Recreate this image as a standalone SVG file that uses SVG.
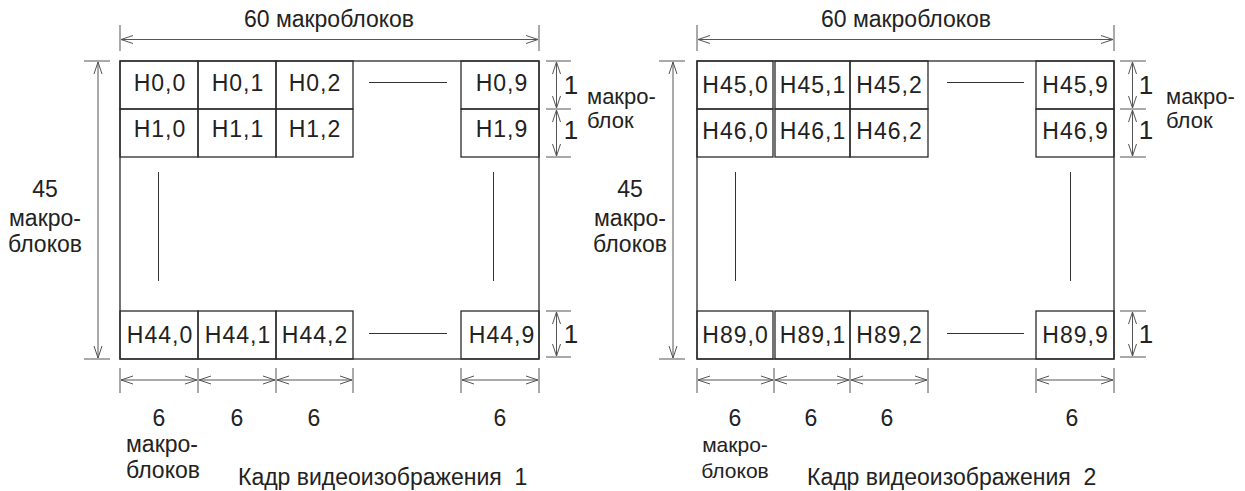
<svg xmlns="http://www.w3.org/2000/svg" width="1245" height="491" viewBox="0 0 1245 491">
<style>
text{font-family:"Liberation Sans",Arial,sans-serif;fill:#222}
.cell{font-size:23px;letter-spacing:1px;text-anchor:middle}
.lbl{font-size:23px}
.mid{text-anchor:middle}
.one{font-size:26px}
.frame{fill:none;stroke:#2a2a2a;stroke-width:1.3}
.dim{fill:none;stroke:#555;stroke-width:1}
.dash{fill:none;stroke:#333;stroke-width:1}
.arr{fill:none;stroke:#555;stroke-width:1;marker-start:url(#ah);marker-end:url(#ah)}
</style>
<defs>
<marker id="ah" viewBox="0 0 12 10" refX="12" refY="5" markerWidth="12" markerHeight="10" markerUnits="userSpaceOnUse" orient="auto-start-reverse">
<path d="M0,1 L12,5 L0,9" fill="none" stroke="#555" stroke-width="1"/>
</marker>
</defs>
<rect width="1245" height="491" fill="#fff"/>

<!-- ===== Frame 1 ===== -->
<g id="frame1">
<rect class="frame" x="120" y="61" width="419" height="298"/>
</g>
<g id="f1-r0">
<rect class="frame" x="120" y="61" width="78" height="48"/><text class="cell" x="160" y="91">H0,0</text>
<rect class="frame" x="198" y="61" width="78" height="48"/><text class="cell" x="238" y="91">H0,1</text>
<rect class="frame" x="276" y="61" width="77" height="48"/><text class="cell" x="315" y="91">H0,2</text>
<rect class="frame" x="461" y="61" width="78" height="48"/><text class="cell" x="502" y="91">H0,9</text>
</g>
<g id="f1-r1">
<rect class="frame" x="120" y="109" width="78" height="48"/><text class="cell" x="160" y="137">H1,0</text>
<rect class="frame" x="198" y="109" width="78" height="48"/><text class="cell" x="238" y="137">H1,1</text>
<rect class="frame" x="276" y="109" width="77" height="48"/><text class="cell" x="315" y="137">H1,2</text>
<rect class="frame" x="461" y="109" width="78" height="48"/><text class="cell" x="502" y="137">H1,9</text>
</g>
<g id="f1-r44">
<rect class="frame" x="120" y="311" width="78" height="48"/><text class="cell" x="160" y="343">H44,0</text>
<rect class="frame" x="198" y="311" width="78" height="48"/><text class="cell" x="238" y="343">H44,1</text>
<rect class="frame" x="276" y="311" width="77" height="48"/><text class="cell" x="315" y="343">H44,2</text>
<rect class="frame" x="461" y="311" width="78" height="48"/><text class="cell" x="502" y="343">H44,9</text>
</g>

<!-- ===== Frame 2 ===== -->
<g id="frame2">
<rect class="frame" x="697" y="61" width="417" height="298"/>
</g>
<g id="f2-r45">
<rect class="frame" x="697" y="61" width="76" height="48"/><text class="cell" x="735.5" y="93">H45,0</text>
<rect class="frame" x="775" y="61" width="75" height="48"/><text class="cell" x="813" y="93">H45,1</text>
<rect class="frame" x="850" y="61" width="78" height="48"/><text class="cell" x="889.5" y="93">H45,2</text>
<rect class="frame" x="1036" y="61" width="78" height="48"/><text class="cell" x="1075.5" y="93">H45,9</text>
</g>
<g id="f2-r46">
<rect class="frame" x="697" y="109" width="76" height="48"/><text class="cell" x="735.5" y="139">H46,0</text>
<rect class="frame" x="775" y="109" width="75" height="48"/><text class="cell" x="813" y="139">H46,1</text>
<rect class="frame" x="850" y="109" width="78" height="48"/><text class="cell" x="889.5" y="139">H46,2</text>
<rect class="frame" x="1036" y="109" width="78" height="48"/><text class="cell" x="1075.5" y="139">H46,9</text>
</g>
<g id="f2-r89">
<rect class="frame" x="697" y="311" width="76" height="48"/><text class="cell" x="735.5" y="343">H89,0</text>
<rect class="frame" x="775" y="311" width="75" height="48"/><text class="cell" x="813" y="343">H89,1</text>
<rect class="frame" x="850" y="311" width="78" height="48"/><text class="cell" x="889.5" y="343">H89,2</text>
<rect class="frame" x="1036" y="311" width="78" height="48"/><text class="cell" x="1075.5" y="343">H89,9</text>
</g>

<!-- ===== connectors / dimension lines ===== -->
<g id="connectors">
<line class="dash" x1="369" y1="82.5" x2="447" y2="82.5"/>
<line class="dash" x1="369" y1="333.5" x2="447" y2="333.5"/>
<line class="dash" x1="158.5" y1="172" x2="158.5" y2="281"/>
<line class="dash" x1="493.5" y1="172" x2="493.5" y2="281"/>
<line class="dash" x1="947" y1="82.5" x2="1024" y2="82.5"/>
<line class="dash" x1="947" y1="333.5" x2="1024" y2="333.5"/>
<line class="dash" x1="735.5" y1="172" x2="735.5" y2="281"/>
<line class="dash" x1="1070.5" y1="172" x2="1070.5" y2="281"/>

<line class="dim" x1="120" y1="25" x2="120" y2="51"/>
<line class="dim" x1="539" y1="25" x2="539" y2="51"/>
<line class="arr" x1="121" y1="39.5" x2="538" y2="39.5"/>
<line class="dim" x1="84" y1="61" x2="110" y2="61"/>
<line class="dim" x1="84" y1="359" x2="110" y2="359"/>
<line class="arr" x1="98" y1="62" x2="98" y2="358"/>
<line class="dim" x1="546" y1="61" x2="571" y2="61"/>
<line class="dim" x1="546" y1="109" x2="571" y2="109"/>
<line class="dim" x1="546" y1="157" x2="571" y2="157"/>
<line class="arr" x1="556.5" y1="62" x2="556.5" y2="108"/>
<line class="arr" x1="556.5" y1="110" x2="556.5" y2="156"/>
<line class="dim" x1="546" y1="311" x2="571" y2="311"/>
<line class="dim" x1="546" y1="357" x2="571" y2="357"/>
<line class="arr" x1="556.5" y1="312" x2="556.5" y2="356"/>
<line class="dim" x1="120" y1="368" x2="120" y2="393"/>
<line class="dim" x1="198" y1="368" x2="198" y2="393"/>
<line class="dim" x1="276" y1="368" x2="276" y2="393"/>
<line class="dim" x1="353" y1="368" x2="353" y2="393"/>
<line class="dim" x1="461" y1="368" x2="461" y2="393"/>
<line class="dim" x1="539" y1="368" x2="539" y2="393"/>
<line class="arr" x1="121" y1="380" x2="197" y2="380"/>
<line class="arr" x1="199" y1="380" x2="275" y2="380"/>
<line class="arr" x1="277" y1="380" x2="352" y2="380"/>
<line class="arr" x1="462" y1="380" x2="538" y2="380"/>

<line class="dim" x1="697" y1="25" x2="697" y2="51"/>
<line class="dim" x1="1114" y1="25" x2="1114" y2="51"/>
<line class="arr" x1="698" y1="39.5" x2="1113" y2="39.5"/>
<line class="dim" x1="659" y1="61" x2="685" y2="61"/>
<line class="dim" x1="659" y1="359" x2="685" y2="359"/>
<line class="arr" x1="673" y1="62" x2="673" y2="358"/>
<line class="dim" x1="1120" y1="61" x2="1146" y2="61"/>
<line class="dim" x1="1120" y1="109" x2="1146" y2="109"/>
<line class="dim" x1="1120" y1="157" x2="1146" y2="157"/>
<line class="arr" x1="1132.5" y1="62" x2="1132.5" y2="108"/>
<line class="arr" x1="1132.5" y1="110" x2="1132.5" y2="156"/>
<line class="dim" x1="1120" y1="311" x2="1146" y2="311"/>
<line class="dim" x1="1120" y1="357" x2="1146" y2="357"/>
<line class="arr" x1="1132.5" y1="312" x2="1132.5" y2="356"/>
<line class="dim" x1="697" y1="368" x2="697" y2="393"/>
<line class="dim" x1="774" y1="368" x2="774" y2="393"/>
<line class="dim" x1="850" y1="368" x2="850" y2="393"/>
<line class="dim" x1="928" y1="368" x2="928" y2="393"/>
<line class="dim" x1="1036" y1="368" x2="1036" y2="393"/>
<line class="dim" x1="1114" y1="368" x2="1114" y2="393"/>
<line class="arr" x1="698" y1="380" x2="773" y2="380"/>
<line class="arr" x1="775" y1="380" x2="849" y2="380"/>
<line class="arr" x1="851" y1="380" x2="927" y2="380"/>
<line class="arr" x1="1037" y1="380" x2="1113" y2="380"/>
</g>

<!-- ===== labels ===== -->
<g id="labels1">
<text class="lbl mid" x="329" y="27">60 макроблоков</text>
<text class="lbl mid" x="45" y="197">45</text>
<text class="lbl mid" x="45" y="226">макро-</text>
<text class="lbl mid" x="45" y="252">блоков</text>
<text class="one mid" x="571" y="94">1</text>
<text class="one mid" x="571" y="139">1</text>
<text class="one mid" x="571" y="343">1</text>
<text class="lbl" x="587" y="104" style="font-size:22px">макро-</text>
<text class="lbl" x="587" y="128" style="font-size:22px">блок</text>
<text class="lbl mid" x="159" y="426">6</text>
<text class="lbl mid" x="237" y="426">6</text>
<text class="lbl mid" x="314" y="426">6</text>
<text class="lbl mid" x="500" y="426">6</text>
<text class="lbl mid" x="162" y="452">макро-</text>
<text class="lbl mid" x="163" y="478">блоков</text>
<text class="lbl" x="238" y="485" xml:space="preserve">Кадр видеоизображения  1</text>
</g>
<g id="labels2">
<text class="lbl mid" x="906" y="27">60 макроблоков</text>
<text class="lbl mid" x="630" y="197">45</text>
<text class="lbl mid" x="630" y="226">макро-</text>
<text class="lbl mid" x="630" y="252">блоков</text>
<text class="one mid" x="1146" y="94">1</text>
<text class="one mid" x="1146" y="139">1</text>
<text class="one mid" x="1146" y="343">1</text>
<text class="lbl" x="1166" y="104" style="font-size:22px">макро-</text>
<text class="lbl" x="1166" y="128" style="font-size:22px">блок</text>
<text class="lbl mid" x="735" y="426">6</text>
<text class="lbl mid" x="811" y="426">6</text>
<text class="lbl mid" x="887" y="426">6</text>
<text class="lbl mid" x="1072" y="426">6</text>
<text class="lbl mid" x="735" y="452" style="font-size:21px">макро-</text>
<text class="lbl mid" x="735" y="478" style="font-size:21px">блоков</text>
<text class="lbl" x="807" y="485" xml:space="preserve">Кадр видеоизображения  2</text>
</g>
</svg>
